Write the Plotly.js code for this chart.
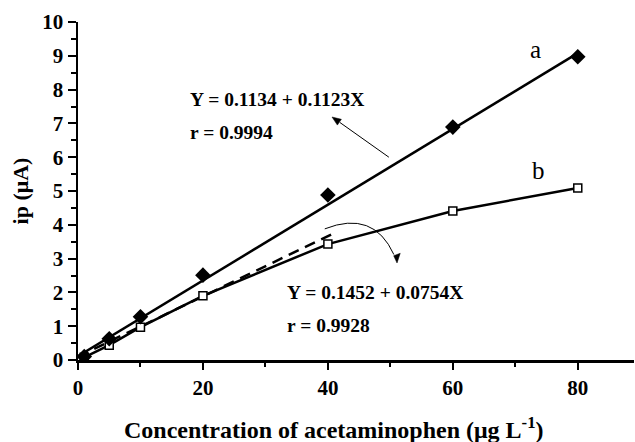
<!DOCTYPE html>
<html>
<head>
<meta charset="utf-8">
<script src="https://cdn.plot.ly/plotly-3.0.1.min.js"></script>
<style>html,body{margin:0;padding:0;background:#fff;}#chart{width:635px;height:442px;}</style>
</head>
<body>
<div id="chart"></div>
<script>
// Series a (filled diamonds)
var concA = [1, 5, 10, 20, 40, 60, 80];
var ipA = [0.1, 0.63, 1.28, 2.51, 4.88, 6.89, 8.97];
// Fitted line for series a
var fitAX = [0, 80];
var fitAY = [0.11, 9.08];
// Series b (open squares)
var concB = [1, 5, 10, 20, 40, 60, 80];
var ipB = [0.08, 0.44, 0.97, 1.9, 3.43, 4.41, 5.09];
// Dashed linear-range fit for series b
var fitBX = [0, 40.6];
var fitBY = [0.1, 3.72];

var xTickVals = [0, 20, 40, 60, 80];
var xTickText = ['0', '20', '40', '60', '80'];
var yTickVals = [0, 1, 2, 3, 4, 5, 6, 7, 8, 9, 10];
var yTickText = ['0', '1', '2', '3', '4', '5', '6', '7', '8', '9', '10'];

var serif = "'Liberation Serif', 'Times New Roman', serif";

var traces = [
  {x: fitAX, y: fitAY, mode: 'lines', line: {color: '#000', width: 2.5}, hoverinfo: 'skip'},
  {x: fitBX, y: fitBY, mode: 'lines', line: {color: '#000', width: 2.5, dash: '11px,7px'}, hoverinfo: 'skip'},
  {x: concB, y: ipB, mode: 'lines+markers', line: {color: '#000', width: 2.5},
   marker: {symbol: 'square', size: 8, color: '#fff', line: {color: '#000', width: 1.5}}},
  {x: concA, y: ipA, mode: 'markers',
   marker: {symbol: 'diamond', size: 12, color: '#000', line: {color: '#000', width: 0}}}
];

var layout = {
  width: 635, height: 442,
  margin: {l: 78, r: 1, t: 22, b: 82},
  paper_bgcolor: '#fff', plot_bgcolor: '#fff',
  showlegend: false,
  font: {family: serif, color: '#000'},
  xaxis: {
    range: [0, 89], showgrid: false, zeroline: false,
    showline: true, linecolor: '#000', linewidth: 2.5,
    ticks: 'outside', ticklen: 7, tickwidth: 2, tickcolor: '#000',
    tickvals: xTickVals, ticktext: xTickText,
    tickfont: {family: serif, size: 21, weight: 'bold'},
    minor: {dtick: 10, ticks: 'outside', ticklen: 4, tickwidth: 2, tickcolor: '#000'}
  },
  yaxis: {
    range: [0, 10], showgrid: false, zeroline: false,
    showline: true, linecolor: '#000', linewidth: 2.5,
    ticks: 'outside', ticklen: 8, tickwidth: 2, tickcolor: '#000',
    tickvals: yTickVals, ticktext: yTickText,
    tickfont: {family: serif, size: 21, weight: 'bold'},
    minor: {dtick: 0.5, ticks: 'outside', ticklen: 5, tickwidth: 2, tickcolor: '#000'},
    title: {text: 'ip (μA)', standoff: 8,
            font: {family: serif, size: 22, weight: 'bold'}}
  },
  shapes: [
    // straight pointer arrow for the fit of a
    {type: 'line', xref: 'x', yref: 'y', x0: 49.76, y0: 6.0, x1: 41.9, y1: 7.03,
     line: {color: '#000', width: 1}},
    {type: 'path', xref: 'x', yref: 'y', path: 'M 40.66,7.189 L 42.16,7.121 L 41.52,6.950 Z',
     fillcolor: '#000', line: {color: '#000', width: 0.5}},
    // curved pointer arrow for the fit of b
    {type: 'path', xref: 'x', yref: 'y', path: 'M 39.5,3.88 Q 47.3,4.45 50.56,3.12',
     line: {color: '#000', width: 1}},
    {type: 'path', xref: 'x', yref: 'y', path: 'M 51.07,2.870 L 51.58,3.157 L 50.53,3.083 Z',
     fillcolor: '#000', line: {color: '#000', width: 0.5}}
  ],
  annotations: [
    {x: 0.461, y: -0.2, xref: 'paper', yref: 'paper', xanchor: 'center', yanchor: 'middle', showarrow: false,
     text: 'Concentration of acetaminophen (μg L<sup>-1</sup>)', font: {family: serif, size: 24, weight: 'bold'}},
    {x: 17.6, y: 7.72, xref: 'x', yref: 'y', xanchor: 'left', yanchor: 'middle', showarrow: false,
     text: 'Y = 0.1134 + 0.1123X', font: {family: serif, size: 19.5, weight: 'bold'}},
    {x: 17.6, y: 6.74, xref: 'x', yref: 'y', xanchor: 'left', yanchor: 'middle', showarrow: false,
     text: 'r = 0.9994', font: {family: serif, size: 19.5, weight: 'bold'}},
    {x: 33.2, y: 2.01, xref: 'x', yref: 'y', xanchor: 'left', yanchor: 'middle', showarrow: false,
     text: 'Y = 0.1452 + 0.0754X', font: {family: serif, size: 19.5, weight: 'bold'}},
    {x: 33.2, y: 1.03, xref: 'x', yref: 'y', xanchor: 'left', yanchor: 'middle', showarrow: false,
     text: 'r = 0.9928', font: {family: serif, size: 19.5, weight: 'bold'}},
    {x: 73.2, y: 9.2, xref: 'x', yref: 'y', showarrow: false,
     text: 'a', font: {family: serif, size: 25}},
    {x: 73.7, y: 5.6, xref: 'x', yref: 'y', showarrow: false,
     text: 'b', font: {family: serif, size: 25}}
  ]
};

Plotly.newPlot('chart', traces, layout, {displayModeBar: false, staticPlot: true});
</script>
</body>
</html>
